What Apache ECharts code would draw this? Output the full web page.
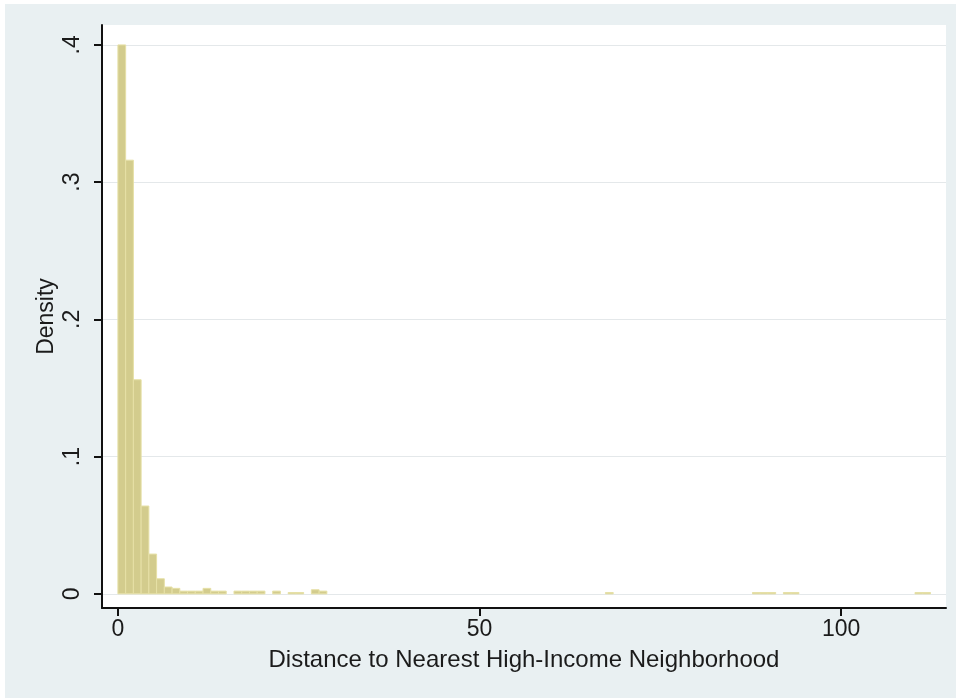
<!DOCTYPE html>
<html>
<head>
<meta charset="utf-8">
<script src="https://cdn.jsdelivr.net/npm/echarts@6/dist/echarts.min.js"></script>
<style>
  html, body { margin: 0; padding: 0; background: #ffffff; }
  #chart { position: absolute; left: 5px; top: 4px; width: 951px; height: 694px; }
</style>
</head>
<body>
<div id="chart"></div>
<script>
// Histogram bins (left edges, in distance units) and their densities
const binWidth = 1.07;
const binStart = [0, 1.07, 2.14, 3.21, 4.28, 5.35, 6.42, 7.49, 8.56, 9.63, 10.7, 11.77, 12.84, 13.91,
  16.05, 17.12, 18.19, 19.26, 21.4, 23.54, 24.61, 26.75, 27.82,
  67.41, 87.74, 88.81, 89.88, 92.02, 93.09, 110.21, 111.28];
const density = [0.400, 0.316, 0.156, 0.064, 0.029, 0.011, 0.005, 0.004, 0.002, 0.002, 0.002, 0.004, 0.002, 0.002,
  0.002, 0.002, 0.002, 0.002, 0.002, 0.001, 0.001, 0.003, 0.002,
  0.001, 0.001, 0.001, 0.001, 0.001, 0.001, 0.001, 0.001];
const xTicks = [0, 50, 100];
const yTicks = [0, 0.1, 0.2, 0.3, 0.4];
const yTickLabels = ['0', '.1', '.2', '.3', '.4'];
const xTitle = 'Distance to Nearest High-Income Neighborhood';
const yTitle = 'Density';

const chart = echarts.init(document.getElementById('chart'), null, { renderer: 'canvas' });
const font = 'Liberation Sans, Arial, sans-serif';
const textColor = '#1b1b1b';

chart.setOption({
  backgroundColor: '#e9f0f2',
  animation: false,
  grid: {
    left: 97, right: 10, top: 21, bottom: 90,
    show: true, backgroundColor: '#ffffff', borderWidth: 0
  },
  xAxis: {
    type: 'value',
    min: -2.2, max: 114.5,
    name: xTitle,
    nameLocation: 'middle',
    nameGap: 40,
    nameMoveOverlap: false,
    nameTextStyle: { fontFamily: font, fontSize: 24, color: textColor },
    axisLine: { show: true, onZero: false, lineStyle: { color: '#111', width: 2 } },
    axisTick: { show: true, length: 8, customValues: xTicks, lineStyle: { color: '#111', width: 2 } },
    axisLabel: { customValues: xTicks, margin: 10, fontFamily: font, fontSize: 23, color: textColor },
    splitLine: { show: false }
  },
  yAxis: {
    type: 'value',
    min: -0.0103, max: 0.4145,
    name: yTitle,
    nameLocation: 'middle',
    nameGap: 44,
    nameRotate: 90,
    nameMoveOverlap: false,
    nameTextStyle: { fontFamily: font, fontSize: 23, color: textColor },
    axisLine: { show: true, onZero: false, lineStyle: { color: '#111', width: 2 } },
    axisTick: { show: true, length: 8, customValues: yTicks, lineStyle: { color: '#111', width: 2 } },
    axisLabel: {
      customValues: yTicks, rotate: 90, margin: 18,
      fontFamily: font, fontSize: 23, color: textColor,
      formatter: function (v) {
        for (let i = 0; i < yTicks.length; i++) {
          if (Math.abs(yTicks[i] - v) < 1e-9) return yTickLabels[i];
        }
        return '';
      }
    },
    splitLine: { show: true, lineStyle: { color: '#e4e8ea', width: 1 } }
  },
  series: [{
    type: 'custom',
    data: binStart.map((x, i) => [x, density[i]]),
    renderItem: function (params, api) {
      const x0 = api.value(0);
      const y = api.value(1);
      const p0 = api.coord([x0, y]);
      const p1 = api.coord([x0 + binWidth, 0]);
      return {
        type: 'rect',
        shape: { x: p0[0], y: p0[1], width: p1[0] - p0[0], height: p1[1] - p0[1] },
        style: { fill: '#d3cc8d', stroke: '#e6e0a6', lineWidth: 1 }
      };
    }
  }]
});
</script>
</body>
</html>
